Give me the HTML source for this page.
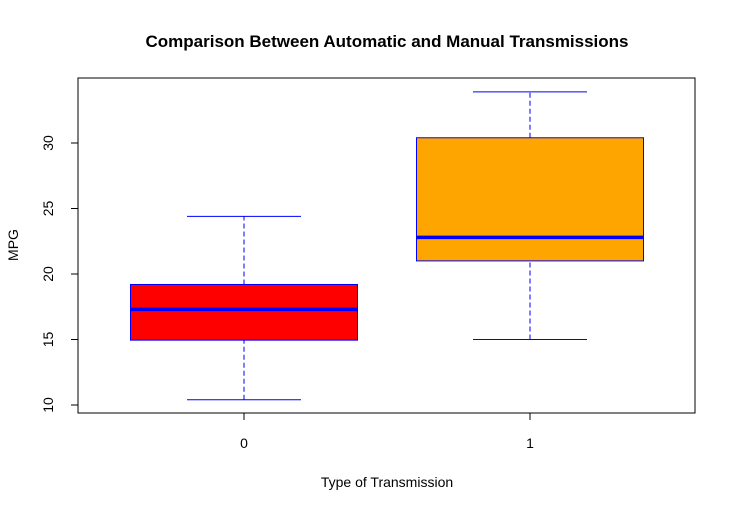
<!DOCTYPE html>
<html><head><meta charset="utf-8"><style>
body{margin:0;background:#fff;font-family:"Liberation Sans",Arial,sans-serif}
</style></head><body>
<svg width="736" height="511" xmlns="http://www.w3.org/2000/svg">
<text x="387" y="47" text-anchor="middle" font-size="17" font-weight="bold">Comparison Between Automatic and Manual Transmissions</text>
<rect x="78" y="78" width="617" height="335" fill="none" stroke="#000"/>
<g id="yaxis"></g>
<g id="xaxis"></g>
<g id="boxes"></g>
<text x="387" y="487" text-anchor="middle" font-size="14">Type of Transmission</text>
<text x="18" y="245" text-anchor="middle" font-size="14" transform="rotate(-90 18 245)">MPG</text>
</svg>
<script>
const categories=["0","1"];
const mins=[10.4,15.0];
const q1s=[14.95,21.0];
const medians=[17.3,22.8];
const q3s=[19.2,30.4];
const maxs=[24.4,33.9];
const fills=["#ff0000","#ffa500"];
const yTicks=[10,15,20,25,30];
const NS="http://www.w3.org/2000/svg";
function y(v){return 405-(v-10)*13.1;}
function x(i){return 244+i*286;}
function mk(tag,attrs,parent){const e=document.createElementNS(NS,tag);for(const k in attrs)e.setAttribute(k,attrs[k]);parent.appendChild(e);return e;}
const ya=document.getElementById('yaxis');
yTicks.forEach(t=>{
 const l=mk('line',{x1:71,x2:78,y1:y(t),y2:y(t),stroke:'#000'},ya);
 
 
 const tx=mk('text',{x:53,y:y(t),'font-size':14,'text-anchor':'middle',transform:`rotate(-90 53 ${y(t)})`},ya);
 
 
 tx.textContent=t;
});
const xa=document.getElementById('xaxis');
categories.forEach((c,i)=>{
 const l=mk('line',{x1:x(i),x2:x(i),y1:413,y2:420,stroke:'#000'},xa);
 
 
 const tx=mk('text',{x:x(i),y:448,'font-size':14,'text-anchor':'middle'},xa);
 
 
 tx.textContent=c;
});
const bx=document.getElementById('boxes');
categories.forEach((c,i)=>{
 const cx=x(i),hw=113.5,ww=57;
 const g=mk('g',{},bx);
 
 
 mk('line',{x1:cx,x2:cx,y1:y(mins[i]),y2:y(q1s[i]),stroke:'#0000ff','stroke-dasharray':'5,3'},g);
 mk('line',{x1:cx,x2:cx,y1:y(q3s[i]),y2:y(maxs[i]),stroke:'#0000ff','stroke-dasharray':'5,3'},g);
 mk('line',{x1:cx-ww,x2:cx+ww,y1:y(mins[i]),y2:y(mins[i]),stroke:'#0000ff'},g);
 mk('line',{x1:cx-ww,x2:cx+ww,y1:y(maxs[i]),y2:y(maxs[i]),stroke:'#0000ff'},g);
 mk('rect',{x:cx-hw,y:y(q3s[i]),width:2*hw,height:y(q1s[i])-y(q3s[i]),fill:fills[i],stroke:'#0000ff'},g);
 mk('line',{x1:cx-hw,x2:cx+hw,y1:y(medians[i]),y2:y(medians[i]),stroke:'#0000ff','stroke-width':3.5},g);
});
</script>
</body></html>
